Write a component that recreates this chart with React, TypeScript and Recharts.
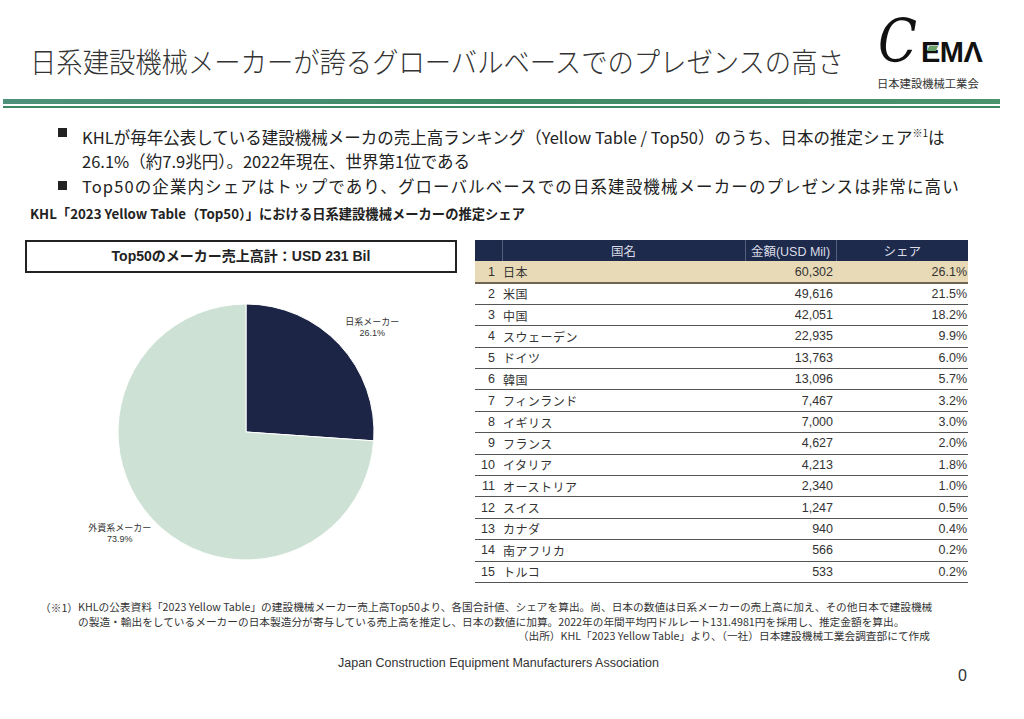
import React from "react";
import { PieChart, Pie, Cell } from "recharts";

const pieLabels = ["日系メーカー", "外資系メーカー"];
const pieShares = [26.1, 73.9];
const pieColors = ["#1c2545", "#cde2d5"];

const ranks = [1, 2, 3, 4, 5, 6, 7, 8, 9, 10, 11, 12, 13, 14, 15];
const countries = [
  "日本", "米国", "中国", "スウェーデン", "ドイツ", "韓国", "フィンランド", "イギリス",
  "フランス", "イタリア", "オーストリア", "スイス", "カナダ", "南アフリカ", "トルコ",
];
const amounts = [60302, 49616, 42051, 22935, 13763, 13096, 7467, 7000, 4627, 4213, 2340, 1247, 940, 566, 533];
const shares = [26.1, 21.5, 18.2, 9.9, 6.0, 5.7, 3.2, 3.0, 2.0, 1.8, 1.0, 0.5, 0.4, 0.2, 0.2];

const tableHeaders = ["国名", "金額(USD Mil)", "シェア"];

const jp = '"Noto Sans CJK JP", "Liberation Sans", sans-serif';
const arial = '"Liberation Sans", Arial, "Noto Sans CJK JP", sans-serif';

const pieData = pieLabels.map((name, i) => ({ name, value: pieShares[i] }));
const rows = ranks.map((r, i) => ({
  rank: r,
  country: countries[i],
  amount: amounts[i].toLocaleString("en-US"),
  share: shares[i].toFixed(1) + "%",
}));

const RAD = Math.PI / 180;

function renderLabel(props: any) {
  const { cx, cy, midAngle, outerRadius, name, value } = props;
  const x = cx + outerRadius * 1.35 * Math.cos(-midAngle * RAD);
  const y = cy + outerRadius * 1.18 * Math.sin(-midAngle * RAD);
  return (
    <text x={x} y={y} textAnchor="middle" fill="#333" fontSize={9} fontFamily={arial}>
      <tspan x={x} dy={-4}>{name}</tspan>
      <tspan x={x} dy={11}>{value.toFixed(1)}%</tspan>
    </text>
  );
}

export default function App() {
  return (
    <div
      style={{
        position: "absolute",
        left: 0,
        top: 0,
        width: 1024,
        height: 719,
        background: "#fff",
        fontFamily: jp,
        color: "#222",
        overflow: "hidden",
      }}
    >
      {/* title */}
      <div
        style={{
          position: "absolute",
          left: 30,
          top: 41,
          fontSize: 28,
          fontWeight: 300,
          whiteSpace: "nowrap",
          color: "#333",
          transform: "scaleX(0.94)",
          transformOrigin: "left center",
        }}
      >
        日系建設機械メーカーが誇るグローバルベースでのプレゼンスの高さ
      </div>

      {/* logo */}
      <div
        style={{
          position: "absolute",
          left: 878,
          top: 11,
          fontSize: 60,
          fontStyle: "italic",
          fontFamily: '"DejaVu Serif", serif',
          color: "#111",
          lineHeight: 1,
          transform: "scaleX(0.85)",
          transformOrigin: "left center",
        }}
      >
        C
      </div>
      <div style={{ position: "absolute", left: 921, top: 38, fontSize: 29, fontWeight: 700, fontFamily: arial, color: "#111", lineHeight: 1, letterSpacing: -0.5 }}>
        EMΛ
      </div>
      <div style={{ position: "absolute", left: 928, top: 46, width: 9, height: 5, background: "#6aa36a", transform: "skewX(-25deg)", zIndex: 2 }} />
      <div style={{ position: "absolute", left: 877, top: 75, fontSize: 11.3, whiteSpace: "nowrap", color: "#333" }}>日本建設機械工業会</div>

      {/* green rule */}
      <div style={{ position: "absolute", left: 3, top: 99, width: 997, height: 5, background: "linear-gradient(90deg,#4e917a,#3f8a66 50%,#4a926c)" }} />
      <div style={{ position: "absolute", left: 3, top: 106, width: 997, height: 2, background: "#3c8663" }} />

      {/* bullets */}
      <div style={{ position: "absolute", left: 58, top: 128, width: 9, height: 9, background: "#222" }} />
      <div style={{ position: "absolute", left: 82, top: 121, fontSize: 16.5, whiteSpace: "nowrap", lineHeight: "24px" }}>
        KHLが毎年公表している建設機械メーカの売上高ランキング（Yellow Table / Top50）のうち、日本の推定シェア<sup style={{ fontSize: 10 }}>※1</sup>は
        <br />
        26.1%（約7.9兆円）。2022年現在、世界第1位である
      </div>
      <div style={{ position: "absolute", left: 58, top: 181, width: 9, height: 9, background: "#222" }} />
      <div style={{ position: "absolute", left: 82, top: 174, fontSize: 16.5, whiteSpace: "nowrap", lineHeight: "24px", letterSpacing: 1.1 }}>
        Top50の企業内シェアはトップであり、グローバルベースでの日系建設機械メーカーのプレゼンスは非常に高い
      </div>

      {/* subtitle */}
      <div style={{ position: "absolute", left: 30, top: 204, fontSize: 13.3, fontWeight: 700, whiteSpace: "nowrap" }}>
        KHL「2023 Yellow Table（Top50）」における日系建設機械メーカーの推定シェア
      </div>

      {/* total box */}
      <div
        style={{
          position: "absolute",
          left: 25,
          top: 240,
          width: 428,
          height: 29,
          border: "2px solid #222",
          textAlign: "center",
          lineHeight: "29px",
          fontSize: 14,
          fontWeight: 700,
          fontFamily: arial,
        }}
      >
        Top50のメーカー売上高計：USD 231 Bil
      </div>

      {/* pie */}
      <div style={{ position: "absolute", left: 25, top: 272 }}>
        <PieChart width={432} height={310}>
          <Pie
            data={pieData}
            dataKey="value"
            nameKey="name"
            cx={216}
            cy={155}
            outerRadius={128}
            startAngle={90}
            endAngle={-270}
            stroke="#fff"
            strokeWidth={1}
            label={renderLabel}
            labelLine={false}
            isAnimationActive={false}
          >
            {pieData.map((d, i) => (
              <Cell key={d.name} fill={pieColors[i]} />
            ))}
          </Pie>
        </PieChart>
      </div>

      {/* ranking table */}
      <table
        style={{
          position: "absolute",
          left: 475,
          top: 240,
          width: 493,
          borderCollapse: "collapse",
          fontFamily: arial,
          fontSize: 12.5,
          color: "#333",
          tableLayout: "fixed",
        }}
      >
        <colgroup>
          <col style={{ width: 27 }} />
          <col style={{ width: 243 }} />
          <col style={{ width: 91 }} />
          <col style={{ width: 132 }} />
        </colgroup>
        <thead>
          <tr style={{ background: "#1e2a4c", color: "#d9dce6", height: 21 }}>
            <th style={{ borderRight: "1px solid #55607e", padding: 0 }} />
            <th style={{ fontWeight: 400, padding: 0, borderRight: "1px solid #55607e" }}>{tableHeaders[0]}</th>
            <th style={{ fontWeight: 400, padding: 0, borderRight: "1px solid #55607e", whiteSpace: "nowrap" }}>{tableHeaders[1]}</th>
            <th style={{ fontWeight: 400, padding: 0 }}>{tableHeaders[2]}</th>
          </tr>
        </thead>
        <tbody>
          {rows.map((r, i) => (
            <tr
              key={r.rank}
              style={{
                height: i === 0 ? 22 : 21.4,
                background: i === 0 ? "#e8dab7" : "transparent",
                borderBottom: i === 0 ? "2px solid #6e6650" : "1px solid #555",
              }}
            >
              <td style={{ textAlign: "right", paddingRight: 7, paddingLeft: 0 }}>{r.rank}</td>
              <td style={{ paddingLeft: 1, whiteSpace: "nowrap", fontFamily: jp, fontSize: 12, letterSpacing: 0.5 }}>{r.country}</td>
              <td style={{ textAlign: "right", paddingRight: 3 }}>{r.amount}</td>
              <td style={{ textAlign: "right", paddingRight: 1 }}>{r.share}</td>
            </tr>
          ))}
        </tbody>
      </table>

      {/* footnotes */}
      <div style={{ position: "absolute", left: 40, top: 600, fontSize: 10.7, whiteSpace: "nowrap", color: "#333" }}>（※1）</div>
      <div style={{ position: "absolute", left: 78, top: 600, fontSize: 10.7, whiteSpace: "nowrap", lineHeight: "14.5px", color: "#333" }}>
        KHLの公表資料「2023 Yellow Table」の建設機械メーカー売上高Top50より、各国合計値、シェアを算出。尚、日本の数値は日系メーカーの売上高に加え、その他日本で建設機械
        <br />
        の製造・輸出をしているメーカーの日本製造分が寄与している売上高を推定し、日本の数値に加算。2022年の年間平均円ドルレート131.4981円を採用し、推定金額を算出。
      </div>
      <div style={{ position: "absolute", right: 94, top: 628, fontSize: 10.7, whiteSpace: "nowrap", color: "#333" }}>
        （出所）KHL「2023 Yellow Table」より、（一社）日本建設機械工業会調査部にて作成
      </div>

      <div style={{ position: "absolute", left: 0, width: 997, top: 656, textAlign: "center", fontSize: 12.5, fontFamily: arial, color: "#333" }}>
        Japan Construction Equipment Manufacturers Association
      </div>
      <div style={{ position: "absolute", left: 958, top: 667, fontSize: 16, fontFamily: arial, color: "#333" }}>0</div>
    </div>
  );
}
